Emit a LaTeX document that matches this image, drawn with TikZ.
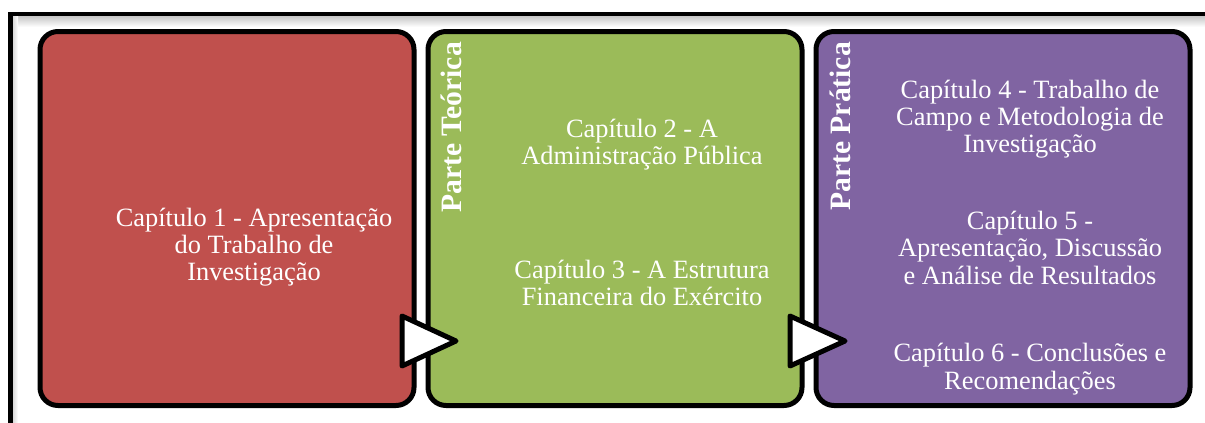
\documentclass[tikz,border=0pt]{standalone}
\usepackage{fontspec}
\setmainfont{Liberation Serif}
\usetikzlibrary{shapes.geometric}
\definecolor{boxred}{HTML}{C0504D}
\definecolor{boxgreen}{HTML}{9BBB59}
\definecolor{boxpurple}{HTML}{8064A2}
\tikzset{
  chapbox/.style={draw=black, line width=5pt, rounded corners=18pt, minimum width=374pt, minimum height=374pt, inner sep=0pt},
  chaptext/.style={text=white, align=center, inner sep=0pt, font=\fontsize{26.4}{27.4}\selectfont},
  parttext/.style={text=white, inner sep=0pt, rotate=90, anchor=base east, font=\fontsize{29.6}{31}\selectfont\bfseries},
  chevron/.style={draw=black, fill=white, line width=5pt, line join=round},
  frameline/.style={draw=black, line width=4.5pt}
}
\begin{document}
\begin{tikzpicture}[x=1pt,y=-1pt]
\useasboundingbox (0,0) rectangle (1205,423);
% outer frame with soft shadow
\shade[top color=gray!45, bottom color=white] (12,16) rectangle (1205,27);
\shade[left color=gray!35, right color=white] (12,16) rectangle (18,423);
\coordinate (ftr) at (1206,14);
\coordinate (ftl) at (10.5,14);
\coordinate (fbl) at (10.5,424);
\draw[frameline] (ftr) -- (ftl) -- (fbl);
% boxes
\node[chapbox, fill=boxred]    (b1) at (227,218.5) {};
\node[chapbox, fill=boxgreen]  (b2) at (615,218.5) {};
\node[chapbox, fill=boxpurple] (b3) at (1003,218.5) {};
% part labels
\node[parttext] (p1) at (461,42) {Parte Teórica};
\node[parttext] (p2) at (850,42) {Parte Prática};
% chapter texts
\node[chaptext] (c1) at (254,248) {\strut Capítulo 1 - Apresentação\\do Trabalho de\\Investigação\strut};
\node[chaptext] (c2) at (642,145.5) {\strut Capítulo 2 - A\\Administração Pública\strut};
\node[chaptext] (c3) at (642,286.5) {\strut Capítulo 3 - A Estrutura\\Financeira do Exército\strut};
\node[chaptext] (c4) at (1030,120) {\strut Capítulo 4 - Trabalho de\\Campo e Metodologia de\\Investigação\strut};
\node[chaptext] (c5) at (1030,251.5) {\strut Capítulo 5 -\\Apresentação, Discussão\\e Análise de Resultados\strut};
\node[chaptext] (c6) at (1030,370) {\strut Capítulo 6 - Conclusões e\\Recomendações\strut};
% chevrons between boxes
\draw[chevron] (402,316) -- (456,341) -- (402,366) -- cycle;
\draw[chevron] (790,316) -- (845,341) -- (790,366) -- cycle;
\end{tikzpicture}
\end{document}
